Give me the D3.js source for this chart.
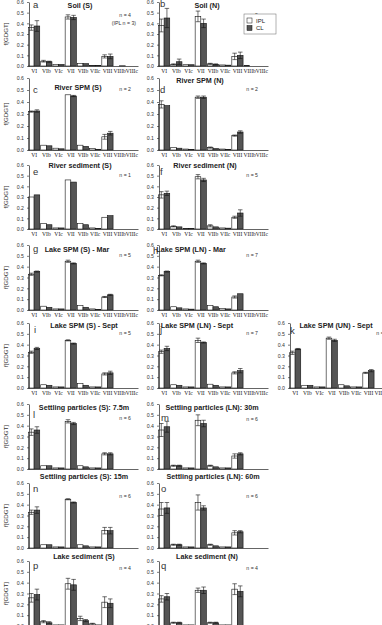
<!DOCTYPE html>
<html>
<head>
<meta charset="utf-8">
<script src="https://cdn.jsdelivr.net/npm/d3@7/dist/d3.min.js"></script>
<style>
  body { margin: 0; background: #fff; }
  svg { display: block; }
</style>
</head>
<body>
<script>
// categories and tick values
const groups = ["VI", "VIb", "VIc", "VII", "VIIb", "VIIc", "VIII", "VIIIb", "VIIIc"];
const yTicks = [0, 0.1, 0.2, 0.3, 0.4, 0.5, 0.6];

// a - Soil (S)
const a_ipl = [0.36, 0.045, 0.015, 0.46, 0.025, 0.005, 0.09, 0, 0];
const a_ipl_sd = [0.025, 0.008, 0.003, 0.02, 0.003, 0.002, 0.015, 0, 0];
const a_cl = [0.375, 0.04, 0.015, 0.455, 0.022, 0.005, 0.09, 0.002, 0];
const a_cl_sd = [0.05, 0.005, 0.003, 0.02, 0.003, 0.002, 0.022, 0, 0];
// b - Soil (N)
const b_ipl = [0.38, 0.015, 0.012, 0.465, 0.02, 0.01, 0.09, 0.005, 0];
const b_ipl_sd = [0.06, 0.005, 0.003, 0.05, 0.005, 0.003, 0.03, 0, 0];
const b_cl = [0.45, 0.04, 0.012, 0.40, 0.015, 0.008, 0.10, 0, 0];
const b_cl_sd = [0.09, 0.025, 0.003, 0.04, 0.005, 0.003, 0.03, 0, 0];
// c - River SPM (S)
const c_ipl = [0.32, 0.04, 0.015, 0.46, 0.04, 0.012, 0.11, 0, 0];
const c_ipl_sd = [0.005, 0.002, 0.002, 0.002, 0.003, 0.002, 0.02, 0, 0];
const c_cl = [0.325, 0.035, 0.01, 0.45, 0.03, 0.006, 0.14, 0, 0];
const c_cl_sd = [0.01, 0.002, 0.001, 0.005, 0.002, 0.001, 0.015, 0, 0];
// d - River SPM (N)
const d_ipl = [0.38, 0.02, 0.008, 0.44, 0.02, 0.008, 0.12, 0, 0];
const d_ipl_sd = [0.03, 0.004, 0.002, 0.01, 0.005, 0.002, 0.005, 0, 0];
const d_cl = [0.37, 0.015, 0.005, 0.44, 0.012, 0.005, 0.15, 0, 0];
const d_cl_sd = [0.003, 0.003, 0.001, 0.01, 0.002, 0.001, 0.01, 0, 0];
// e - River sediment (S), n = 1
const e_ipl = [0.30, 0.05, 0.01, 0.46, 0.05, 0.01, 0.11, 0, 0];
const e_ipl_sd = [0, 0, 0, 0, 0, 0, 0, 0, 0];
const e_cl = [0.32, 0.04, 0.01, 0.44, 0.04, 0.005, 0.125, 0, 0];
const e_cl_sd = [0, 0, 0, 0, 0, 0, 0, 0, 0];
// f - River sediment (N)
const f_ipl = [0.32, 0.025, 0.005, 0.49, 0.03, 0.01, 0.11, 0, 0];
const f_ipl_sd = [0.03, 0.005, 0.002, 0.02, 0.01, 0.003, 0.01, 0, 0];
const f_cl = [0.335, 0.02, 0.005, 0.46, 0.02, 0.008, 0.15, 0, 0];
const f_cl_sd = [0.02, 0.004, 0.002, 0.015, 0.004, 0.002, 0.03, 0, 0];
// g - Lake SPM (S) - Mar
const g_ipl = [0.33, 0.035, 0.01, 0.45, 0.04, 0.01, 0.12, 0, 0];
const g_ipl_sd = [0.01, 0.004, 0.002, 0.01, 0.004, 0.002, 0.005, 0, 0];
const g_cl = [0.355, 0.025, 0.01, 0.43, 0.025, 0.005, 0.14, 0, 0];
const g_cl_sd = [0.005, 0.003, 0.002, 0.005, 0.003, 0.001, 0.005, 0, 0];
// h - Lake SPM (LN) - Mar
const h_ipl = [0.32, 0.03, 0.01, 0.45, 0.04, 0.015, 0.12, 0, 0];
const h_ipl_sd = [0.005, 0.004, 0.002, 0.01, 0.004, 0.003, 0.01, 0, 0];
const h_cl = [0.355, 0.02, 0.008, 0.43, 0.03, 0.01, 0.15, 0, 0];
const h_cl_sd = [0.005, 0.003, 0.002, 0.005, 0.003, 0.002, 0.003, 0, 0];
// i - Lake SPM (S) - Sept
const i_ipl = [0.33, 0.03, 0.01, 0.44, 0.04, 0.01, 0.13, 0, 0];
const i_ipl_sd = [0.01, 0.003, 0.002, 0.005, 0.004, 0.002, 0.01, 0, 0];
const i_cl = [0.365, 0.025, 0.01, 0.41, 0.025, 0.01, 0.14, 0, 0];
const i_cl_sd = [0.01, 0.003, 0.002, 0.005, 0.003, 0.002, 0.015, 0, 0];
// j - Lake SPM (LN) - Sept
const j_ipl = [0.335, 0.03, 0.01, 0.44, 0.035, 0.01, 0.14, 0, 0];
const j_ipl_sd = [0.015, 0.003, 0.002, 0.02, 0.004, 0.002, 0.01, 0, 0];
const j_cl = [0.365, 0.025, 0.01, 0.42, 0.025, 0.01, 0.16, 0, 0];
const j_cl_sd = [0.02, 0.003, 0.002, 0.005, 0.003, 0.002, 0.02, 0, 0];
// k - Lake SPM (UN) - Sept
const k_ipl = [0.325, 0.025, 0.01, 0.46, 0.03, 0.01, 0.14, 0, 0];
const k_ipl_sd = [0.015, 0.003, 0.002, 0.01, 0.004, 0.002, 0.005, 0, 0];
const k_cl = [0.36, 0.025, 0.01, 0.44, 0.02, 0.01, 0.16, 0, 0];
const k_cl_sd = [0.005, 0.003, 0.002, 0.01, 0.003, 0.002, 0.01, 0, 0];
// l - Settling particles (S): 7.5m
const l_ipl = [0.34, 0.03, 0.01, 0.44, 0.03, 0.01, 0.14, 0, 0];
const l_ipl_sd = [0.03, 0.004, 0.002, 0.015, 0.004, 0.002, 0.01, 0, 0];
const l_cl = [0.36, 0.03, 0.01, 0.42, 0.02, 0.01, 0.14, 0, 0];
const l_cl_sd = [0.03, 0.004, 0.002, 0.01, 0.003, 0.002, 0.01, 0, 0];
// m - Settling particles (LN): 30m
const m_ipl = [0.36, 0.03, 0.01, 0.45, 0.03, 0.01, 0.12, 0, 0];
const m_ipl_sd = [0.06, 0.005, 0.002, 0.05, 0.005, 0.002, 0.02, 0, 0];
const m_cl = [0.39, 0.03, 0.01, 0.42, 0.02, 0.01, 0.14, 0, 0];
const m_cl_sd = [0.05, 0.005, 0.002, 0.03, 0.004, 0.002, 0.01, 0, 0];
// n - Settling particles (S): 15m
const n_ipl = [0.33, 0.03, 0.01, 0.45, 0.03, 0.01, 0.16, 0, 0];
const n_ipl_sd = [0.02, 0.004, 0.002, 0.005, 0.004, 0.002, 0.03, 0, 0];
const n_cl = [0.35, 0.03, 0.01, 0.42, 0.02, 0.01, 0.16, 0, 0];
const n_cl_sd = [0.03, 0.004, 0.002, 0.005, 0.003, 0.002, 0.03, 0, 0];
// o - Settling particles (LN): 60m
const o_ipl = [0.36, 0.03, 0.01, 0.42, 0.03, 0.01, 0.14, 0, 0];
const o_ipl_sd = [0.06, 0.005, 0.002, 0.07, 0.005, 0.002, 0.02, 0, 0];
const o_cl = [0.37, 0.03, 0.01, 0.37, 0.02, 0.01, 0.15, 0, 0];
const o_cl_sd = [0.05, 0.005, 0.002, 0.02, 0.004, 0.002, 0.01, 0, 0];
// p - Lake sediment (S)
const p_ipl = [0.26, 0.04, 0.01, 0.39, 0.07, 0.02, 0.22, 0, 0];
const p_ipl_sd = [0.04, 0.01, 0.003, 0.05, 0.02, 0.005, 0.05, 0, 0];
const p_cl = [0.29, 0.03, 0.01, 0.38, 0.05, 0.01, 0.21, 0, 0];
const p_cl_sd = [0.05, 0.01, 0.003, 0.05, 0.01, 0.003, 0.04, 0, 0];
// q - Lake sediment (N)
const q_ipl = [0.25, 0.03, 0.01, 0.33, 0.03, 0.01, 0.34, 0, 0];
const q_ipl_sd = [0.03, 0.005, 0.002, 0.02, 0.005, 0.002, 0.05, 0, 0];
const q_cl = [0.27, 0.03, 0.01, 0.33, 0.03, 0.01, 0.32, 0, 0];
const q_cl_sd = [0.03, 0.005, 0.002, 0.03, 0.005, 0.002, 0.05, 0, 0];

// layout: columns (x range of the plot) and rows (y of 0.6 and 0.0)
const cols = [[28, 138], [158, 268], [289, 399]];
const rows = [[2, 66], [78, 150], [165, 229], [245, 310], [323, 388], [404, 469], [483, 548], [561, 626]];
// rows whose x axis carries no category labels in the original
const unlabelledRows = [5, 6];

const panels = [
  {letter: "a", col: 0, row: 0, title: "Soil (S)", tx: 80, ty: 8, lx: 33, ly: 8, n: "n = 4", n2: "(IPL n = 3)", nx: 131, ny: 17,
   ipl: a_ipl, iplSd: a_ipl_sd, cl: a_cl, clSd: a_cl_sd},
  {letter: "b", col: 1, row: 0, title: "Soil (N)", tx: 207, ty: 8, lx: 160, ly: 7, n: "n = 9", nx: 258, ny: 17,
   ipl: b_ipl, iplSd: b_ipl_sd, cl: b_cl, clSd: b_cl_sd, legend: true},
  {letter: "c", col: 0, row: 1, title: "River SPM (S)", tx: 78, ty: 90, lx: 33, ly: 93, n: "n = 2", nx: 131, ny: 91,
   ipl: c_ipl, iplSd: c_ipl_sd, cl: c_cl, clSd: c_cl_sd},
  {letter: "d", col: 1, row: 1, title: "River SPM (N)", tx: 200, ty: 83, lx: 160, ly: 93, n: "n = 2", nx: 258, ny: 91,
   ipl: d_ipl, iplSd: d_ipl_sd, cl: d_cl, clSd: d_cl_sd},
  {letter: "e", col: 0, row: 2, title: "River sediment (S)", tx: 80, ty: 168, lx: 33, ly: 175, n: "n = 1", nx: 131, ny: 177,
   ipl: e_ipl, iplSd: e_ipl_sd, cl: e_cl, clSd: e_cl_sd},
  {letter: "f", col: 1, row: 2, title: "River sediment (N)", tx: 205, ty: 168, lx: 160, ly: 175, n: "n = 5", nx: 258, ny: 177,
   ipl: f_ipl, iplSd: f_ipl_sd, cl: f_cl, clSd: f_cl_sd},
  {letter: "g", col: 0, row: 3, title: "Lake SPM (S) - Mar", tx: 77, ty: 252, lx: 33, ly: 252, n: "n = 5", nx: 131, ny: 257,
   ipl: g_ipl, iplSd: g_ipl_sd, cl: g_cl, clSd: g_cl_sd},
  {letter: "h", col: 1, row: 3, title: "Lake SPM (LN) - Mar", tx: 191, ty: 252, lx: 153, ly: 254, n: "n = 7", nx: 258, ny: 257,
   ipl: h_ipl, iplSd: h_ipl_sd, cl: h_cl, clSd: h_cl_sd},
  {letter: "i", col: 0, row: 4, title: "Lake SPM (S) - Sept", tx: 84, ty: 328, lx: 34, ly: 333, n: "n = 5", nx: 131, ny: 335,
   ipl: i_ipl, iplSd: i_ipl_sd, cl: i_cl, clSd: i_cl_sd},
  {letter: "j", col: 1, row: 4, title: "Lake SPM (LN) - Sept", tx: 197, ty: 328, lx: 160, ly: 333, n: "n = 7", nx: 258, ny: 335,
   ipl: j_ipl, iplSd: j_ipl_sd, cl: j_cl, clSd: j_cl_sd},
  {letter: "k", col: 2, row: 4, title: "Lake SPM (UN) - Sept", tx: 336, ty: 328, lx: 290, ly: 334, n: "n = 7", nx: 388, ny: 335,
   ipl: k_ipl, iplSd: k_ipl_sd, cl: k_cl, clSd: k_cl_sd},
  {letter: "l", col: 0, row: 5, title: "Settling particles (S): 7.5m", tx: 84, ty: 410, lx: 33, ly: 418, n: "n = 6", nx: 131, ny: 420,
   ipl: l_ipl, iplSd: l_ipl_sd, cl: l_cl, clSd: l_cl_sd},
  {letter: "m", col: 1, row: 5, title: "Settling particles (LN): 30m", tx: 212, ty: 410, lx: 161, ly: 421, n: "n = 6", nx: 258, ny: 421,
   ipl: m_ipl, iplSd: m_ipl_sd, cl: m_cl, clSd: m_cl_sd},
  {letter: "n", col: 0, row: 6, title: "Settling particles (S): 15m", tx: 84, ty: 479, lx: 33, ly: 492, n: "n = 6", nx: 131, ny: 498,
   ipl: n_ipl, iplSd: n_ipl_sd, cl: n_cl, clSd: n_cl_sd},
  {letter: "o", col: 1, row: 6, title: "Settling particles (LN): 60m", tx: 213, ty: 479, lx: 161, ly: 492, n: "n = 6", nx: 258, ny: 498,
   ipl: o_ipl, iplSd: o_ipl_sd, cl: o_cl, clSd: o_cl_sd},
  {letter: "p", col: 0, row: 7, title: "Lake sediment (S)", tx: 84, ty: 559, lx: 33, ly: 569, n: "n = 4", nx: 131, ny: 570,
   ipl: p_ipl, iplSd: p_ipl_sd, cl: p_cl, clSd: p_cl_sd},
  {letter: "q", col: 1, row: 7, title: "Lake sediment (N)", tx: 207, ty: 559, lx: 161, ly: 569, n: "n = 4", nx: 258, ny: 570,
   ipl: q_ipl, iplSd: q_ipl_sd, cl: q_cl, clSd: q_cl_sd}
];

const width = 382;
const height = 625;
const darkFill = "#555555";
const sans = "'Liberation Sans', Arial, sans-serif";
const serif = "'Liberation Serif', 'Times New Roman', serif";

const svg = d3.select("body").append("svg")
  .attr("width", width)
  .attr("height", height);

/**
 * draws one bar panel with its axes, bars, error bars and labels
 */
function drawPanel(p) {
  const [x0, x1] = cols[p.col];
  const [yTop, yBot] = rows[p.row];

  const x = d3.scaleBand().domain(groups).range([x0, x1]).paddingInner(0.08).paddingOuter(0.04);
  const sub = d3.scaleBand().domain(["ipl", "cl"]).range([0, x.bandwidth()]);
  const y = d3.scaleLinear().domain([0, 0.6]).range([yBot, yTop]);

  const g = svg.append("g");

  // bars
  const series = [
    {key: "ipl", vals: p.ipl, sd: p.iplSd, fill: "#fff"},
    {key: "cl", vals: p.cl, sd: p.clSd, fill: darkFill}
  ];
  series.forEach((s) => {
    const items = groups.map((grp, i) => ({grp: grp, v: s.vals[i], sd: s.sd[i]}));
    g.selectAll(null).data(items.filter((d) => d.v > 0)).enter().append("rect")
      .attr("x", (d) => x(d.grp) + sub(s.key))
      .attr("y", (d) => y(d.v))
      .attr("width", sub.bandwidth())
      .attr("height", (d) => yBot - y(d.v))
      .attr("fill", s.fill)
      .attr("stroke", "#111")
      .attr("stroke-width", 0.6);

    // error bars
    const errs = items.filter((d) => d.sd > 0.004);
    const cx = (d) => x(d.grp) + sub(s.key) + sub.bandwidth() / 2;
    const capW = sub.bandwidth() * 0.4;
    g.selectAll(null).data(errs).enter().append("line")
      .attr("x1", cx).attr("x2", cx)
      .attr("y1", (d) => y(d.v + d.sd)).attr("y2", (d) => y(Math.max(0, d.v - d.sd)))
      .attr("stroke", "#111").attr("stroke-width", 0.6);
    ["plus", "minus"].forEach((side) => {
      g.selectAll(null).data(errs).enter().append("line")
        .attr("x1", (d) => cx(d) - capW).attr("x2", (d) => cx(d) + capW)
        .attr("y1", (d) => y(side === "plus" ? d.v + d.sd : Math.max(0, d.v - d.sd)))
        .attr("y2", (d) => y(side === "plus" ? d.v + d.sd : Math.max(0, d.v - d.sd)))
        .attr("stroke", "#111").attr("stroke-width", 0.6);
    });
  });

  // y axis
  const yAxis = g.append("g")
    .attr("transform", `translate(${x0 + 1},0)`)
    .call(d3.axisLeft(y).tickValues(yTicks).tickFormat(d3.format(".1f")).tickSize(2).tickSizeOuter(0));
  yAxis.select(".domain").attr("stroke", "#222").attr("stroke-width", 0.7);
  yAxis.selectAll(".tick line").attr("stroke", "#222").attr("stroke-width", 0.6);
  yAxis.selectAll(".tick text")
    .attr("x", -5)
    .attr("font-family", sans)
    .attr("font-size", 5.2)
    .attr("fill", "#333");

  // x axis
  const showLabels = !unlabelledRows.includes(p.row);
  const xAxis = g.append("g")
    .attr("transform", `translate(0,${yBot})`)
    .call(d3.axisBottom(x).tickSize(0).tickSizeOuter(0).tickFormat(showLabels ? null : () => ""));
  xAxis.select(".domain").attr("stroke", "#222").attr("stroke-width", 0.7);
  xAxis.selectAll(".tick text")
    .attr("y", 3)
    .attr("font-family", serif)
    .attr("font-size", 5.6)
    .attr("fill", "#222");

  // y label only on the left column
  if (p.col === 0) {
    g.append("text")
      .attr("transform", `translate(8,${(yTop + yBot) / 2}) rotate(-90)`)
      .attr("text-anchor", "middle")
      .attr("font-family", sans)
      .attr("font-size", 6.2)
      .attr("fill", "#333")
      .text("f[GDGT]");
  }

  // title, panel letter and n
  g.append("text")
    .attr("x", p.tx).attr("y", p.ty)
    .attr("text-anchor", "middle")
    .attr("font-family", sans)
    .attr("font-weight", "bold")
    .attr("font-size", 7.2)
    .attr("fill", "#222")
    .text(p.title);

  g.append("text")
    .attr("x", p.lx).attr("y", p.ly)
    .attr("font-family", sans)
    .attr("font-size", 9.5)
    .attr("fill", "#333")
    .text(p.letter);

  g.append("text")
    .attr("x", p.nx).attr("y", p.ny)
    .attr("text-anchor", "end")
    .attr("font-family", sans)
    .attr("font-size", 5.2)
    .attr("fill", "#333")
    .text(p.n);
  if (p.n2) {
    g.append("text")
      .attr("x", p.nx + 5).attr("y", p.ny + 8)
      .attr("text-anchor", "end")
      .attr("font-family", sans)
      .attr("font-size", 5.2)
      .attr("fill", "#333")
      .text(p.n2);
  }

  if (p.legend) {
    const lg = g.append("g").attr("transform", "translate(244,14)");
    lg.append("rect")
      .attr("width", 32).attr("height", 20)
      .attr("fill", "#fff").attr("stroke", "#666").attr("stroke-width", 0.5);
    const items = [{label: "IPL", fill: "#fff"}, {label: "CL", fill: darkFill}];
    items.forEach((it, i) => {
      lg.append("rect")
        .attr("x", 3).attr("y", 4 + i * 7.5)
        .attr("width", 5).attr("height", 5)
        .attr("fill", it.fill).attr("stroke", "#111").attr("stroke-width", 0.5);
      lg.append("text")
        .attr("x", 12).attr("y", 8.8 + i * 7.5)
        .attr("font-family", sans)
        .attr("font-size", 6)
        .attr("fill", "#222")
        .text(it.label);
    });
  }
}

panels.forEach(drawPanel);
</script>
</body>
</html>
